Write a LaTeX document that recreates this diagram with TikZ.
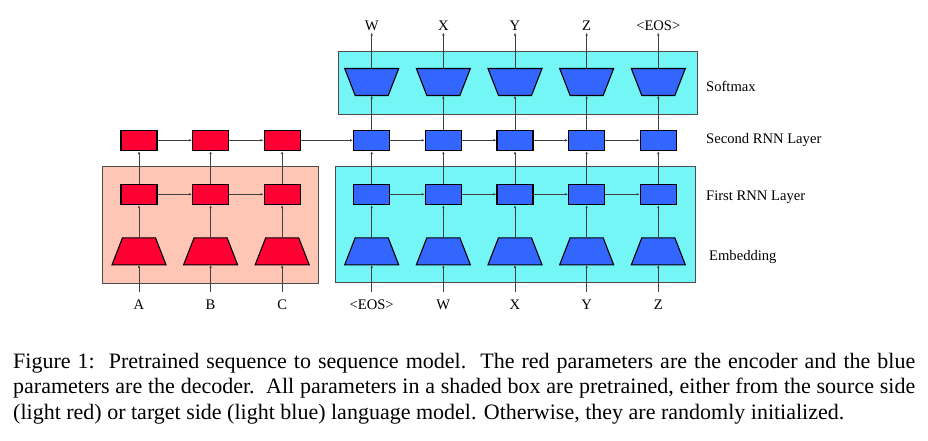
\documentclass[tikz,border=0pt]{standalone}
\usepackage{fontspec}
\setmainfont{Liberation Serif}
\usetikzlibrary{arrows.meta}
\definecolor{encred}{HTML}{FF0033}
\definecolor{decblue}{HTML}{3366FF}
\definecolor{lightred}{HTML}{FFC6B6}
\definecolor{lightcyan}{HTML}{74F6F6}
\begin{document}
\begin{tikzpicture}[x=1pt,y=-1pt,
  cell/.style={draw=black, line width=1.1pt, minimum width=36pt, minimum height=20.5pt, inner sep=0},
  enccell/.style={cell, fill=encred},
  deccell/.style={cell, fill=decblue},
  trapbox/.style={rectangle, minimum width=54pt, minimum height=27pt, inner sep=0, outer sep=0},
  trapline/.style={draw=black, line width=1.1pt, line join=miter},
  conn/.style={draw=black!75, line width=0.8pt, -{Latex[length=3pt,width=2.4pt]}},
  lbl/.style={font=\fontsize{14.6}{17}\selectfont, inner xsep=0, text height=9.6pt, text depth=0pt},
  inlbl/.style={lbl, inner ysep=8pt},
  outlbl/.style={lbl, inner ysep=2pt},
  sidelbl/.style={lbl, inner sep=0, anchor=west},
  shadebox/.style={draw=black!70, line width=0.9pt}
]
\useasboundingbox (0,0) rectangle (928,440);
% shaded boxes
\draw[shadebox, fill=lightred] (102.3,166) rectangle (318.3,283.3);
\draw[shadebox, fill=lightcyan] (335.7,166) rectangle (695,282.7);
\draw[shadebox, fill=lightcyan] (338.3,51.7) rectangle (697.7,114);
% encoder
\foreach \i/\x/\lab in {1/139/A,2/210.6/B,3/282.2/C}{
  \node[trapbox] (ee\i) at (\x,251.3) {};
  \draw[trapline, fill=encred] ([xshift=10.5pt]ee\i.north west) -- ([xshift=-10.5pt]ee\i.north east)
    -- (ee\i.south east) -- (ee\i.south west) -- cycle;
  \node[enccell] (ea\i) at (\x,194.3) {};
  \node[enccell] (eb\i) at (\x,140.3) {};
  \node[inlbl] (ein\i) at (\x,305) {\lab};
  \draw[conn] (ein\i.north) -- (ee\i.south);
  \draw[conn] (ee\i.north) -- (ea\i.south);
  \draw[conn] (ea\i.north) -- (eb\i.south);
}
% decoder
\foreach \i/\x/\lab/\outl in {1/371.7/{<EOS>}/W,2/443.35/W/X,3/515/X/Y,4/586.65/Y/Z,5/658.3/Z/{<EOS>}}{
  \node[trapbox] (de\i) at (\x,251.3) {};
  \draw[trapline, fill=decblue] ([xshift=10.5pt]de\i.north west) -- ([xshift=-10.5pt]de\i.north east)
    -- (de\i.south east) -- (de\i.south west) -- cycle;
  \node[trapbox] (ds\i) at (\x,82) {};
  \draw[trapline, fill=decblue] (ds\i.north west) -- (ds\i.north east)
    -- ([xshift=-10.5pt]ds\i.south east) -- ([xshift=10.5pt]ds\i.south west) -- cycle;
  \node[deccell] (da\i) at (\x,194.3) {};
  \node[deccell] (db\i) at (\x,140.3) {};
  \node[inlbl] (din\i) at (\x,305) {\lab};
  \node[outlbl] (dout\i) at (\x,25.5) {\outl};
  \draw[conn] (din\i.north) -- (de\i.south);
  \draw[conn] (de\i.north) -- (da\i.south);
  \draw[conn] (da\i.north) -- (db\i.south);
  \draw[conn] (db\i.north) -- (ds\i.south);
  \draw[conn] (ds\i.north) -- (dout\i.south);
}
% horizontal connections
\draw[conn] (ea1) -- (ea2);
\draw[conn] (ea2) -- (ea3);
\draw[conn] (eb1) -- (eb2);
\draw[conn] (eb2) -- (eb3);
\draw[conn] (eb3) -- (db1);
\foreach \i/\j in {1/2,2/3,3/4,4/5}{
  \draw[conn] (da\i) -- (da\j);
  \draw[conn] (db\i) -- (db\j);
}
% side labels
\node[sidelbl] (lsoft) at (706,87) {Softmax};
\node[sidelbl] (lsecond) at (706,138.5) {Second RNN Layer};
\node[sidelbl] (lfirst) at (706,196) {First RNN Layer};
\node[sidelbl] (lembed) at (709,255.5) {Embedding};
% caption
\node[anchor=base west, inner sep=0] (caption) at (13,368) {\parbox[t]{902pt}{\fontsize{22}{25.5}\selectfont
Figure 1:\ \ Pretrained sequence to sequence model.\ \ The red parameters are the encoder and the blue\linebreak
parameters are the decoder.\ \ All parameters in a shaded box are pretrained, either from the source side\linebreak
(light red) or target side (light blue) language model. Otherwise, they are randomly initialized.}};
\end{tikzpicture}
\end{document}
